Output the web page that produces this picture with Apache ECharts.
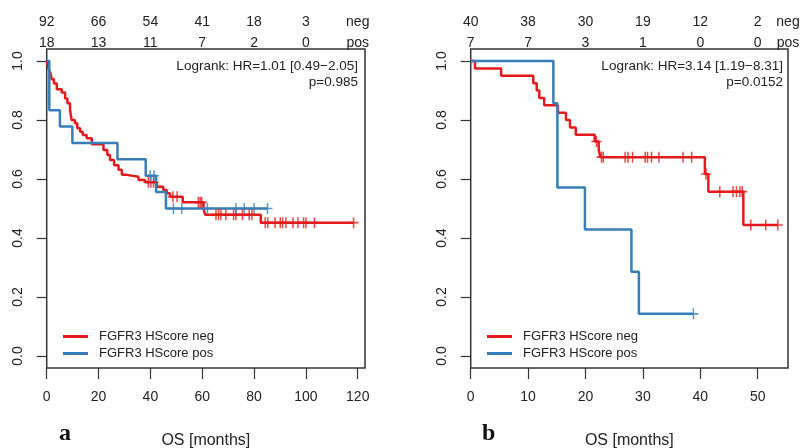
<!DOCTYPE html>
<html>
<head>
<meta charset="utf-8">
<script src="https://cdn.jsdelivr.net/npm/echarts@6/dist/echarts.min.js"></script>
<style>html,body{margin:0;padding:0;background:#fff}#c{width:800px;height:448px}</style>
</head>
<body>
<div id="c"></div>
<script>
// ---------- Panel a ----------
const aTicks = [0, 20, 40, 60, 80, 100, 120];
const aRiskTimes = [0, 20, 40, 60, 80, 100];
const aRiskNeg = [92, 66, 54, 41, 18, 3];
const aRiskPos = [18, 13, 11, 7, 2, 0];
const aNegT = [0, 0.3, 0.6, 1.0, 1.5, 1.9, 2.8, 3.9, 5.8, 7.1, 8.0, 9.0, 9.6, 10.9, 11.8, 12.9, 13.9, 15.4, 17.4, 21.9, 23.4, 24.4, 26.0, 27.7, 29.0, 30.9, 35.4, 38.0, 42.5, 45.0, 46.3, 47.6, 52.5, 60.5, 61.1, 82.6];
const aNegS = [1, 0.989, 0.978, 0.967, 0.958, 0.938, 0.924, 0.904, 0.893, 0.873, 0.857, 0.834, 0.800, 0.789, 0.772, 0.760, 0.749, 0.738, 0.718, 0.698, 0.681, 0.664, 0.647, 0.631, 0.614, 0.608, 0.597, 0.589, 0.574, 0.563, 0.552, 0.540, 0.521, 0.500, 0.479, 0.452];
const aNegCens = [39.2, 40.2, 41.2, 48.7, 50.3, 58.5, 59.2, 59.8, 65.3, 66.3, 67.2, 69.1, 72.1, 73.0, 75.5, 78.1, 79.2, 84.3, 85.3, 88.1, 90.1, 91.0, 92.3, 95.0, 96.9, 99.1, 100.0, 103.3, 118.4];
const aPosT = [0, 1.0, 5.1, 9.9, 27.3, 38.2, 42.2, 46.0];
const aPosS = [1, 0.833, 0.778, 0.722, 0.667, 0.611, 0.556, 0.500];
const aPosCens = [39.9, 41.4, 48.9, 52.1, 62.0, 73.0, 76.2, 80.0, 85.2];
const aLogrank = 'Logrank: HR=1.01 [0.49\u22122.05]';
const aP = 'p=0.985';

// ---------- Panel b ----------
const bTicks = [0, 10, 20, 30, 40, 50];
const bRiskTimes = [0, 10, 20, 30, 40, 50];
const bRiskNeg = [40, 38, 30, 19, 12, 2];
const bRiskPos = [7, 7, 3, 1, 0, 0];
const bNegT = [0, 0.75, 5.3, 10.9, 11.5, 11.95, 12.8, 15.2, 16.6, 17.3, 18.3, 21.6, 22.3, 22.6, 40.8, 41.4, 47.5];
const bNegS = [1, 0.975, 0.95, 0.925, 0.9, 0.875, 0.85, 0.825, 0.8, 0.775, 0.75, 0.727, 0.70, 0.674, 0.617, 0.557, 0.444];
const bNegCens = [21.9, 22.8, 23.1, 26.9, 27.4, 28.2, 30.4, 30.8, 31.5, 32.8, 37.0, 38.5, 41.0, 43.4, 45.7, 46.3, 46.9, 47.3, 48.8, 51.4, 53.5];
const bPosT = [0, 14.4, 15.1, 19.9, 28.0, 29.3];
const bPosS = [1, 0.857, 0.571, 0.429, 0.286, 0.143];
const bPosCens = [38.8];
const bLogrank = 'Logrank: HR=3.14 [1.19\u22128.31]';
const bP = 'p=0.0152';

const yTicks = [0, 0.2, 0.4, 0.6, 0.8, 1.0];
const negName = 'FGFR3 HScore neg';
const posName = 'FGFR3 HScore pos';
const RED = '#e41a1c', BLUE = '#377eb8';
const FONT = '"Liberation Sans", Arial, sans-serif';

function curve(T, S, cens) {
  const d = T.map((t, i) => [t, S[i]]);
  const last = Math.max.apply(null, cens);
  if (last > T[T.length - 1]) d.push([last, S[S.length - 1]]);
  return d;
}
function censPts(T, S, cens) {
  return cens.map(c => {
    let s = S[0];
    for (let i = 0; i < T.length; i++) if (T[i] <= c) s = S[i];
    return [c, s];
  });
}
const PLUS = 'path://M8.5,0H11.5V8.5H20V11.5H11.5V20H8.5V11.5H0V8.5H8.5Z';

const grids = [
  {left: 46.7, top: 49, width: 318.3, height: 319},
  {left: 470.7, top: 49, width: 317.3, height: 319}
];
const xMax = [122.8, 55.28];
const ticks = [aTicks, bTicks];

function bottomAxis(g) {
  return {
    type: 'value', gridIndex: g, min: 0, max: xMax[g], position: 'bottom',
    axisLine: {show: false, onZero: false}, splitLine: {show: false},
    axisTick: {show: true, inside: false, length: 11, customValues: ticks[g], lineStyle: {color: '#333', width: 1.2}},
    axisLabel: {customValues: ticks[g], margin: 22, fontSize: 14, color: '#222', fontFamily: FONT},
    name: 'OS [months]', nameLocation: 'middle', nameGap: 65,
    nameTextStyle: {fontSize: 16, color: '#222', fontFamily: FONT}
  };
}
function riskAxis(g, times, vals, label, offset) {
  const pos = g === 0 ? 120 : xMax[1];
  return {
    type: 'value', gridIndex: g, min: 0, max: xMax[g], position: 'top', offset: offset,
    axisLine: {show: false, onZero: false}, splitLine: {show: false}, axisTick: {show: false},
    axisLabel: {
      customValues: times.concat([pos]), margin: 1, fontSize: 14, color: '#222', fontFamily: FONT,
      formatter: function (v) {
        const i = times.indexOf(v);
        return i >= 0 ? String(vals[i]) : label;
      }
    }
  };
}
function yAxis(g) {
  return {
    type: 'value', gridIndex: g, min: -0.0407, max: 1.0407,
    axisLine: {show: false, onZero: false}, splitLine: {show: false},
    axisTick: {show: true, inside: false, length: 10, customValues: yTicks, lineStyle: {color: '#333', width: 1.2}},
    axisLabel: {customValues: yTicks, rotate: 90, margin: 22, fontSize: 14, color: '#222', fontFamily: FONT,
      formatter: v => v.toFixed(1)}
  };
}
function lineSeries(name, xi, yi, data, color, z) {
  return {name: name, type: 'line', xAxisIndex: xi, yAxisIndex: yi, step: 'end', data: data,
    showSymbol: false, symbol: 'none', silent: true, z: z,
    lineStyle: {width: 2.5, color: color}, itemStyle: {color: color}};
}
function censSeries(name, xi, yi, data, color, z) {
  return {name: name, type: 'scatter', xAxisIndex: xi, yAxisIndex: yi, data: data, symbol: PLUS,
    symbolSize: [10, 11], silent: true, z: z, itemStyle: {color: color}};
}

const option = {
  animation: false,
  backgroundColor: '#fff',
  grid: grids.map(g => Object.assign({show: true, borderColor: '#333', borderWidth: 1.5, backgroundColor: 'transparent',
    containLabel: false, outerBoundsMode: 'none'}, g)),
  xAxis: [
    bottomAxis(0), bottomAxis(1),
    riskAxis(0, aRiskTimes, aRiskNeg, 'neg', 19), riskAxis(1, bRiskTimes, bRiskNeg, 'neg', 19),
    riskAxis(0, aRiskTimes, aRiskPos, 'pos', -2), riskAxis(1, bRiskTimes, bRiskPos, 'pos', -2)
  ],
  yAxis: [yAxis(0), yAxis(1)],
  legend: [
    {left: 58, top: 325, orient: 'vertical', itemWidth: 25, itemHeight: 3, itemGap: 4, icon: 'rect',
     textStyle: {fontSize: 13, color: '#222', fontFamily: FONT, padding: [0, 0, 0, 6]}, data: [negName, posName]},
    {left: 482, top: 325, orient: 'vertical', itemWidth: 25, itemHeight: 3, itemGap: 4, icon: 'rect',
     textStyle: {fontSize: 13, color: '#222', fontFamily: FONT, padding: [0, 0, 0, 6]}, data: [negName, posName]}
  ],
  series: [
    lineSeries(negName, 0, 0, curve(aNegT, aNegS, aNegCens), RED, 2),
    lineSeries(posName, 0, 0, curve(aPosT, aPosS, aPosCens), BLUE, 3),
    censSeries('a neg censored', 0, 0, censPts(aNegT, aNegS, aNegCens), RED, 4),
    censSeries('a pos censored', 0, 0, censPts(aPosT, aPosS, aPosCens), BLUE, 5),
    lineSeries(negName, 1, 1, curve(bNegT, bNegS, bNegCens), RED, 2),
    lineSeries(posName, 1, 1, curve(bPosT, bPosS, bPosCens), BLUE, 3),
    censSeries('b neg censored', 1, 1, censPts(bNegT, bNegS, bNegCens), RED, 4),
    censSeries('b pos censored', 1, 1, censPts(bPosT, bPosS, bPosCens), BLUE, 5)
  ],
  graphic: [
    {type: 'text', x: 358, y: 66, style: {text: aLogrank, align: 'right', verticalAlign: 'middle', font: '13.5px ' + FONT, fill: '#222'}},
    {type: 'text', x: 358, y: 82, style: {text: aP, align: 'right', verticalAlign: 'middle', font: '13.5px ' + FONT, fill: '#222'}},
    {type: 'text', x: 783, y: 66, style: {text: bLogrank, align: 'right', verticalAlign: 'middle', font: '13.5px ' + FONT, fill: '#222'}},
    {type: 'text', x: 783, y: 82, style: {text: bP, align: 'right', verticalAlign: 'middle', font: '13.5px ' + FONT, fill: '#222'}},
    {type: 'text', x: 59, y: 446, style: {text: 'a', align: 'left', verticalAlign: 'bottom', font: 'bold 24px "Liberation Serif", "Times New Roman", serif', fill: '#111'}},
    {type: 'text', x: 482, y: 446, style: {text: 'b', align: 'left', verticalAlign: 'bottom', font: 'bold 24px "Liberation Serif", "Times New Roman", serif', fill: '#111'}}
  ]
};
const chart = echarts.init(document.getElementById('c'), null, {renderer: 'canvas'});
chart.setOption(option);
</script>
</body>
</html>
